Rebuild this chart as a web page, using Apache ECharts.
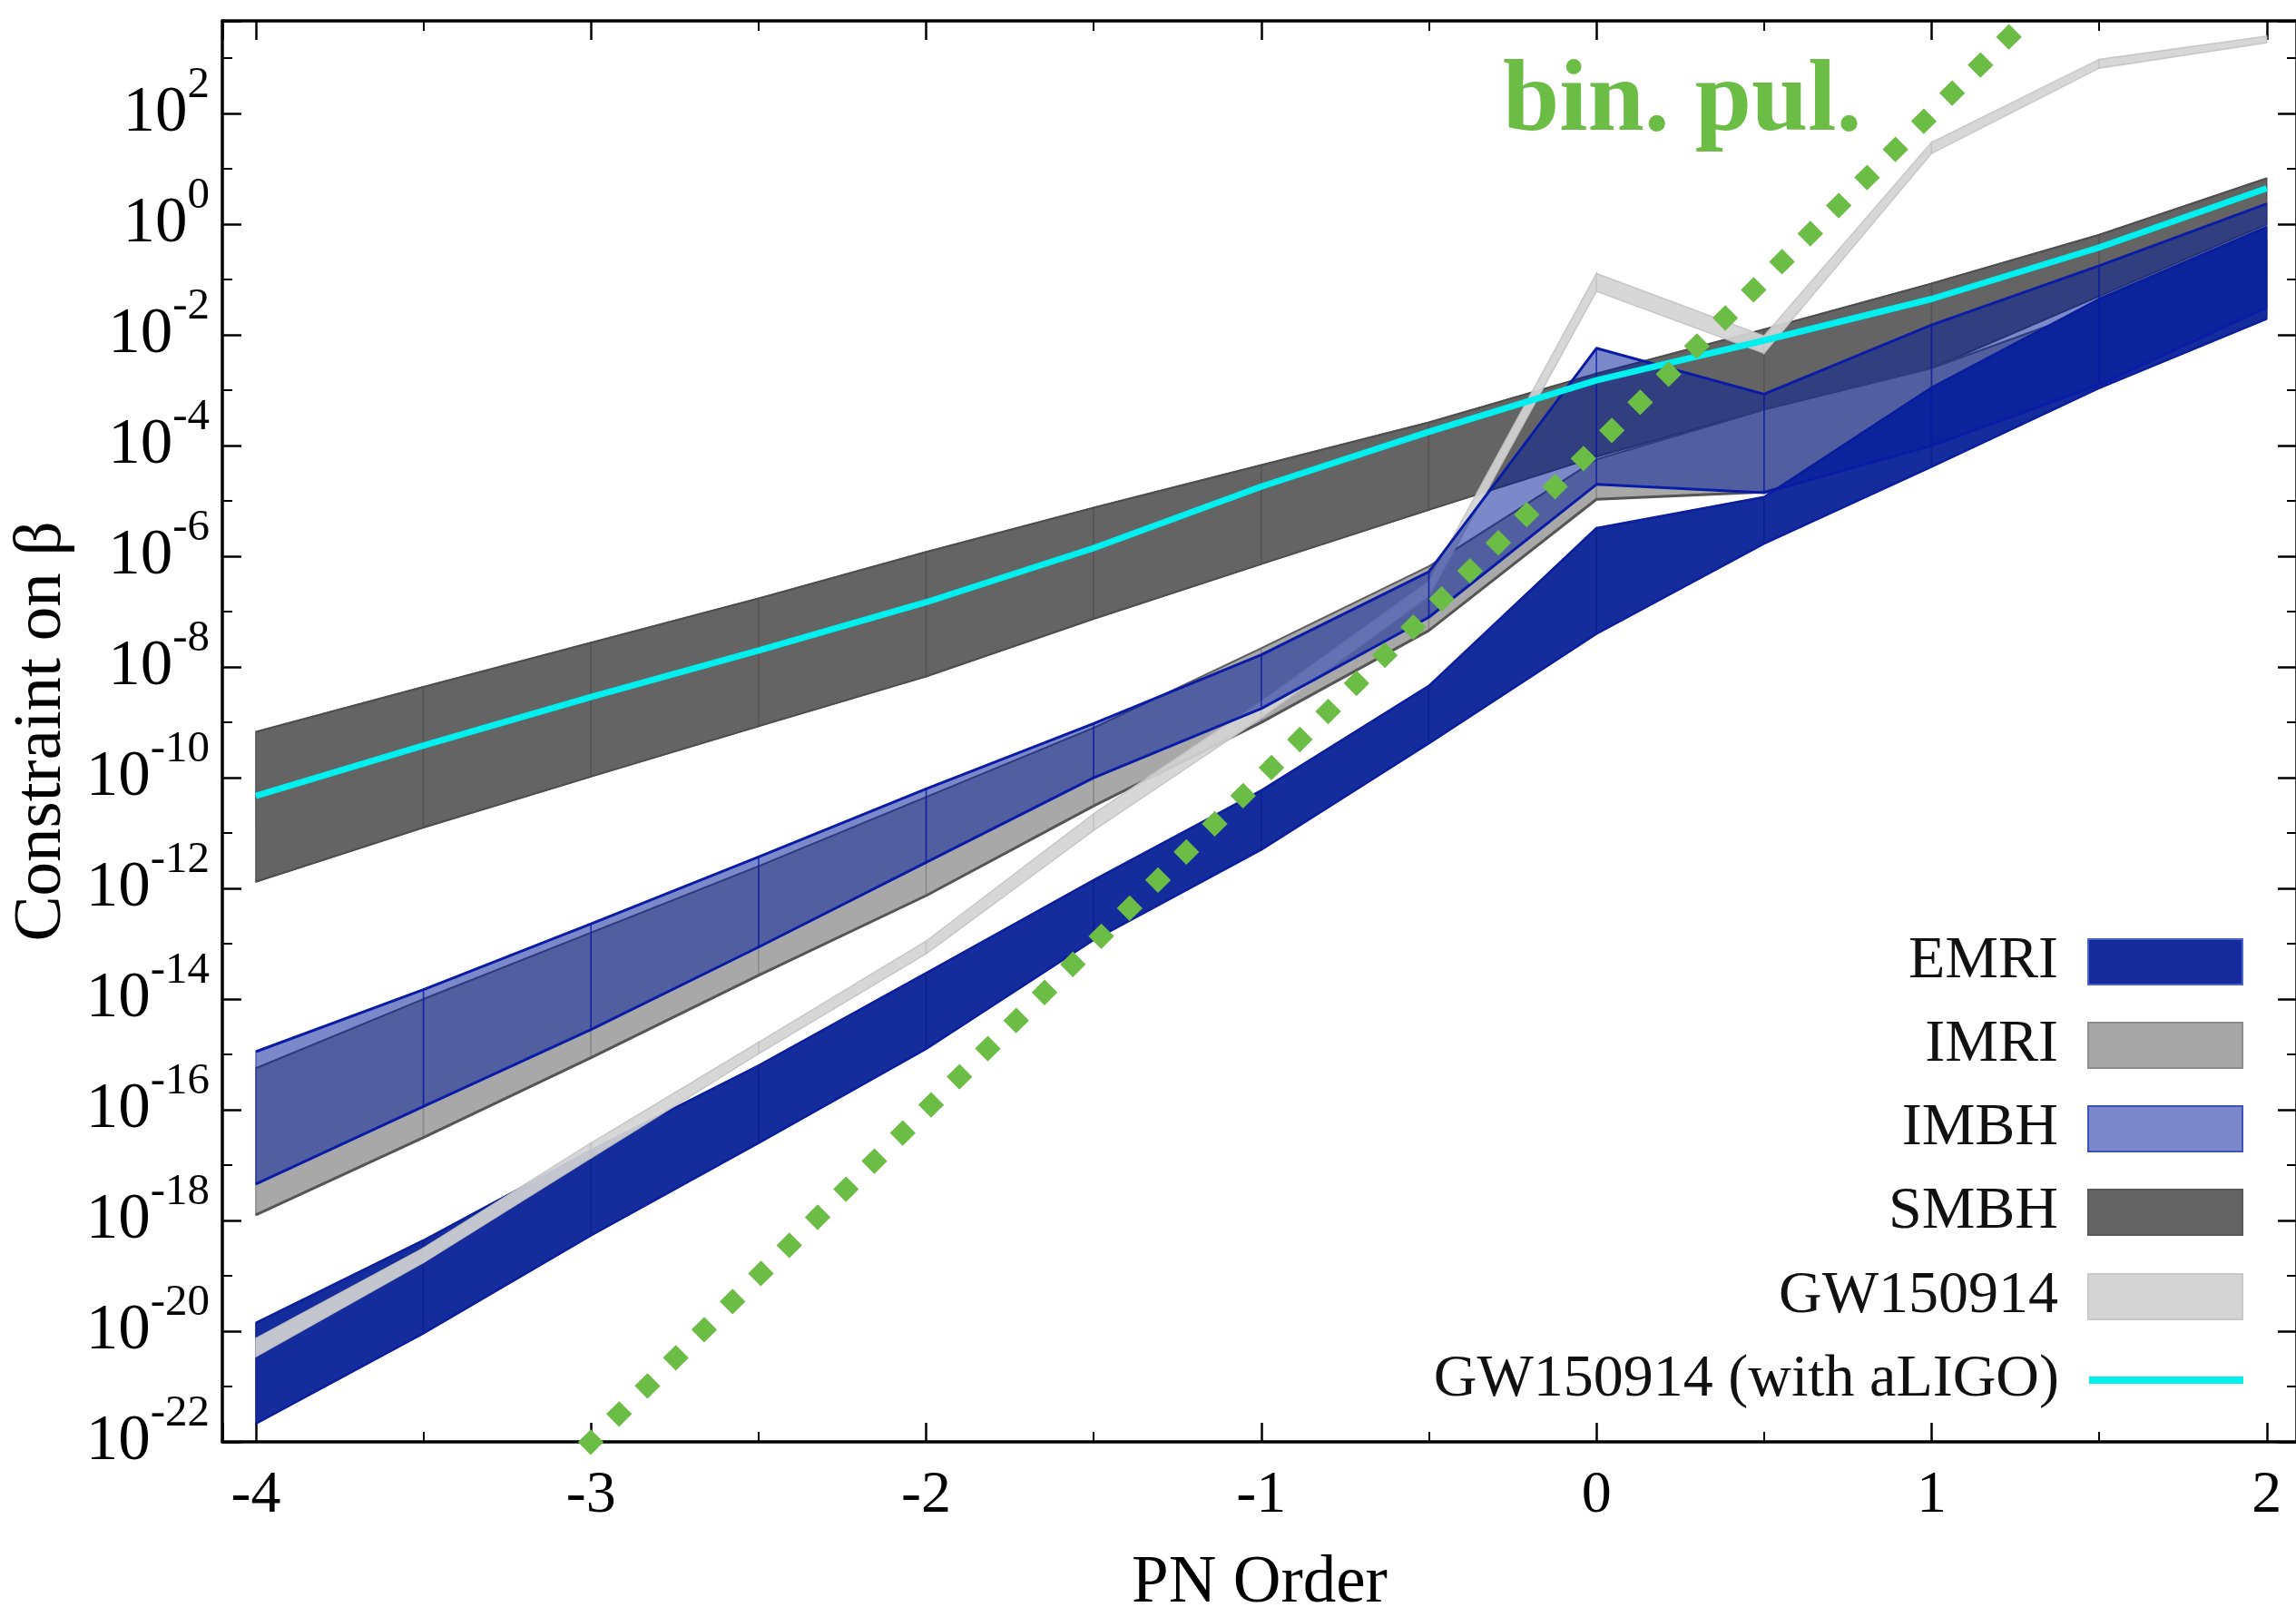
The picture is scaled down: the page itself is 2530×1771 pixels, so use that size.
<!DOCTYPE html>
<html>
<head>
<meta charset="utf-8">
<script src="https://cdn.jsdelivr.net/npm/echarts@6/dist/echarts.min.js"></script>
<style>html,body{margin:0;padding:0;background:#fff}#c{width:2530px;height:1771px}</style>
</head>
<body>
<div id="c"></div>
<script>
// ---- data (y values are log10 of the constraint on beta) ----
const pnOrder = [-4, -3.5, -3, -2.5, -2, -1.5, -1, -0.5, 0, 0.5, 1, 1.5, 2];

const smbhTop    = [-9.17, -8.36, -7.56, -6.76, -5.92, -5.12, -4.35, -3.58, -2.70, -1.90, -1.07, -0.19, 0.83];
const smbhBottom = [-11.88, -10.90, -9.98, -9.07, -8.17, -7.13, -6.14, -5.16, -4.20, -3.35, -2.60, -1.30, 0.00];

const imriTop    = [-15.25, -14.00, -12.80, -11.60, -10.35, -9.10, -7.66, -6.18, -4.25, -3.35, -2.60, -1.50, -0.30];
const imriBottom = [-17.90, -16.50, -15.06, -13.57, -12.13, -10.51, -9.00, -7.34, -4.97, -4.84, -3.95, -2.95, -1.65];

const imbhTop    = [-14.95, -13.83, -12.64, -11.43, -10.20, -9.02, -7.78, -6.28, -2.24, -3.07, -1.82, -0.75, 0.37];
const imbhBottom = [-17.34, -15.94, -14.55, -13.06, -11.53, -10.00, -8.75, -7.10, -4.70, -4.85, -4.00, -2.90, -1.50];

const emriTop    = [-19.85, -18.36, -16.73, -15.20, -13.53, -11.85, -10.23, -8.34, -5.49, -4.93, -2.95, -1.35, -0.05];
const emriBottom = [-21.67, -20.04, -18.27, -16.60, -14.90, -12.93, -11.30, -9.38, -7.40, -5.77, -4.38, -2.96, -1.71];

const gwTop      = [-20.13, -18.50, -16.60, -14.78, -12.95, -10.65, -8.62, -6.45, -0.89, -2.02, 1.48, 2.98, 3.40];
const gwBottom   = [-20.46, -18.76, -16.87, -14.99, -13.18, -10.95, -8.92, -6.72, -1.21, -2.33, 1.28, 2.82, 3.28];

const aligoLine  = [-10.33, -9.42, -8.54, -7.70, -6.83, -5.85, -4.74, -3.75, -2.82, -2.10, -1.35, -0.42, 0.65];

const pulsarX    = [-3.02, 1.279];
const pulsarExp  = [-22.12, 3.675];

const legendNames = ['EMRI', 'IMRI', 'IMBH', 'SMBH', 'GW150914', 'GW150914 (with aLIGO)'];
const annotation = 'bin. pul.';

// ---- chart ----
const SERIF = "'Liberation Serif', 'DejaVu Serif', serif";
const chart = echarts.init(document.getElementById('c'), null, {renderer: 'canvas', width: 2530, height: 1771});

let zc = 1;
function bandSeries(name, lo, hi, fill, stroke, lw) {
  const data = [];
  for (let i = 0; i < pnOrder.length - 1; i++) {
    data.push([pnOrder[i], lo[i], hi[i], pnOrder[i + 1], lo[i + 1], hi[i + 1]]);
  }
  return {
    type: 'custom', name: name, z: zc++, silent: true, clip: false,
    data: data,
    encode: {x: [0, 3], y: [1, 2, 4, 5]},
    itemStyle: {color: fill},
    renderItem: function (params, api) {
      const p1 = api.coord([api.value(0), api.value(1)]);
      const p2 = api.coord([api.value(3), api.value(4)]);
      const p3 = api.coord([api.value(3), api.value(5)]);
      const p4 = api.coord([api.value(0), api.value(2)]);
      return {type: 'polygon', shape: {points: [p1, p2, p3, p4]},
              style: {fill: fill, stroke: stroke, lineWidth: lw}};
    }
  };
}
function lineSeries(name, xs, ys, color, width, extra) {
  return Object.assign({
    type: 'line', name: name, z: zc++, silent: true, symbol: 'none', animation: false,
    data: xs.map((x, i) => [x, ys[i]]),
    lineStyle: {color: color, width: width},
    itemStyle: {color: color}
  }, extra || {});
}

const series = [
  bandSeries('SMBH', smbhBottom, smbhTop, '#646464', '#555555', 1.5),
  lineSeries('SMBH top', pnOrder, smbhTop, '#4e4e4e', 2),
  lineSeries('SMBH bottom', pnOrder, smbhBottom, '#4e4e4e', 2),
  bandSeries('IMRI', imriBottom, imriTop, '#a8a8a8', '#8a8a8a', 1.5),
  lineSeries('IMRI top', pnOrder, imriTop, '#5e5e5e', 2),
  lineSeries('IMRI bottom', pnOrder, imriBottom, '#555555', 3),
  bandSeries('EMRI', emriBottom, emriTop, '#152c9c', '#0d2290', 1.5),
  lineSeries('EMRI top', pnOrder, emriTop, '#0b1f9e', 2.5),
  lineSeries('EMRI bottom', pnOrder, emriBottom, '#0b1f9e', 2.5),
  bandSeries('GW150914', gwBottom, gwTop, 'rgba(212,212,212,0.92)', 'rgba(195,195,195,0.9)', 1.5),
  bandSeries('IMBH', imbhBottom, imbhTop, 'rgba(1,28,155,0.52)', 'rgba(10,28,166,0.55)', 1.5),
  lineSeries('IMBH top', pnOrder, imbhTop, '#0a1ca6', 3),
  lineSeries('IMBH bottom', pnOrder, imbhBottom, '#0a1ca6', 3),
  lineSeries('GW150914 (with aLIGO)', pnOrder, aligoLine, '#00f0f0', 7),
  lineSeries('binary pulsar', pulsarX, pulsarExp, '#6cbd45', 20,
             {clip: false, lineStyle: {color: '#6cbd45', width: 20, type: [20, 24], cap: 'butt'}})
];

const legendStyle = {
  'EMRI': {color: '#172c9c', borderColor: '#4a63c8', borderWidth: 2},
  'IMRI': {color: '#a6a6a6', borderColor: '#8c8c8c', borderWidth: 2},
  'IMBH': {color: '#7b89cb', borderColor: '#3d52bd', borderWidth: 2},
  'SMBH': {color: '#646464', borderColor: '#585858', borderWidth: 2},
  'GW150914': {color: '#d4d4d4', borderColor: '#c8c8c8', borderWidth: 2},
  'GW150914 (with aLIGO)': {color: '#00f0f0'}
};
const legendCenters = [1060, 1152, 1244, 1336, 1429, 1521];
const legends = legendNames.map((n, i) => {
  const isLine = i === legendNames.length - 1;
  return {
    data: [{name: n, icon: 'rect', itemStyle: legendStyle[n]}],
    orient: 'vertical', align: 'right', right: 58, top: legendCenters[i] - 33,
    itemWidth: 170, itemHeight: isLine ? 8 : 50, padding: 0, itemGap: 0,
    selectedMode: false,
    textStyle: {fontFamily: SERIF, fontSize: 66, lineHeight: 66, color: '#111', padding: [0, 28, 0, 0]}
  };
});

const axisLine = {show: true, onZero: false, lineStyle: {color: '#000', width: 3.5}};
const axisTick = {show: true, inside: true, length: 21, lineStyle: {color: '#000', width: 2.5}};
const minorTick = {show: true, splitNumber: 2, length: 11, lineStyle: {color: '#000', width: 2}};
const isInt = v => Math.abs(v - Math.round(v)) < 1e-6;

const xBase = {type: 'value', min: -4.1, max: 2.09, splitNumber: 6,
               axisLine: axisLine, axisTick: axisTick, minorTick: minorTick,
               splitLine: {show: false}, minorSplitLine: {show: false}};
const yBase = {type: 'value', min: -22, max: 3.675, interval: 2,
               axisLine: axisLine, axisTick: axisTick, minorTick: minorTick,
               splitLine: {show: false}, minorSplitLine: {show: false}};

const option = {
  backgroundColor: '#ffffff',
  animation: false,
  grid: {left: 245, top: 23, width: 2286, height: 1566, containLabel: false, outerBoundsMode: 'none'},
  xAxis: [
    Object.assign({}, xBase, {
      position: 'bottom',
      axisLabel: {formatter: v => isInt(v) ? String(Math.round(v)) : '', fontFamily: SERIF, fontSize: 66, color: '#000', margin: 27},
      name: 'PN Order', nameLocation: 'middle', nameGap: 120,
      nameTextStyle: {fontFamily: SERIF, fontSize: 73, color: '#000'}
    }),
    Object.assign({}, xBase, {position: 'top', axisLabel: {show: false}})
  ],
  yAxis: [
    Object.assign({}, yBase, {
      position: 'left',
      axisLabel: {
        formatter: v => isInt(v) ? '{b|10}{s|' + Math.round(v) + '}' : '',
        margin: 14,
        rich: {
          b: {fontFamily: SERIF, fontSize: 71, color: '#000'},
          s: {fontFamily: SERIF, fontSize: 49, color: '#000', padding: [0, 0, 62, 0]}
        }
      },
      name: 'Constraint on β', nameLocation: 'middle', nameRotate: 90, nameGap: 160,
      nameTextStyle: {fontFamily: SERIF, fontSize: 75, color: '#000'}
    }),
    Object.assign({}, yBase, {position: 'right', axisLabel: {show: false}})
  ],
  legend: legends,
  graphic: [{
    type: 'text', left: 1656, top: 58, z: 100,
    style: {text: annotation, font: 'bold 112px ' + SERIF, fill: '#6cbd45'}
  }],
  series: series
};
chart.setOption(option);
</script>
</body>
</html>
